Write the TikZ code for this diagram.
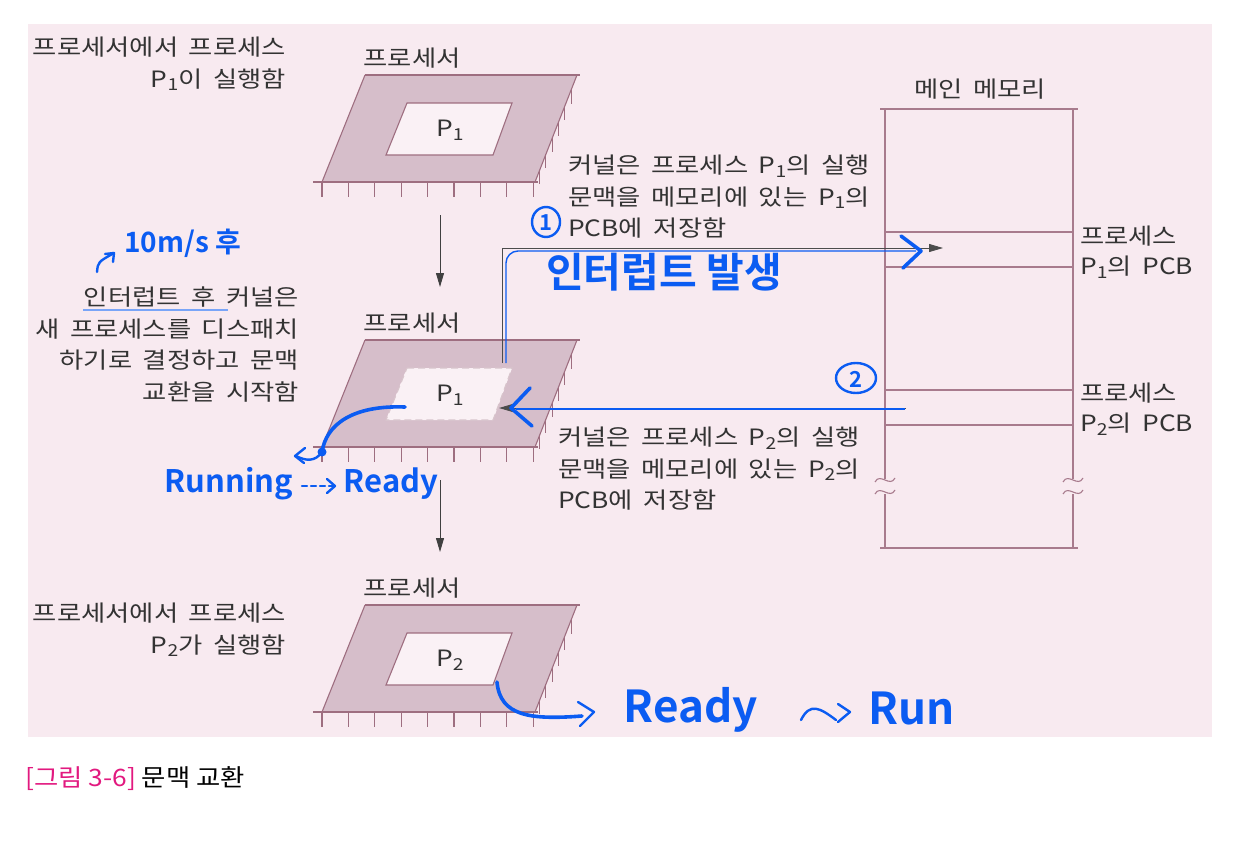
\documentclass[tikz,border=0pt]{standalone}
\usepackage{fontspec}
\newfontfamily\kr[FakeStretch=1.17,WordSpace=1.8]{Noto Sans CJK KR}
\newfontfamily\capf[FakeStretch=1.1]{Noto Sans CJK KR}
\newfontfamily\hand{Noto Sans CJK KR Bold}
\usetikzlibrary{arrows.meta}
\definecolor{bgpink}{HTML}{F8EAF0}
\definecolor{framefill}{HTML}{D6BECA}
\definecolor{frameline}{HTML}{9E6E80}
\definecolor{winfill}{HTML}{FAF1F5}
\definecolor{memline}{HTML}{A87B8D}
\definecolor{textgray}{HTML}{333333}
\definecolor{pen}{HTML}{0B5CF2}
\definecolor{capmag}{HTML}{E2197F}
\newcommand\subn[1]{\raisebox{-0.3ex}{\fontsize{16.5}{16.5}\selectfont #1}}
\tikzset{
  txt/.style={font=\kr\fontsize{22.5}{31.5}\selectfont, text=textgray, inner sep=0pt},
  procline/.style={draw=frameline, line width=1.1pt},
  memln/.style={draw=memline, line width=1.1pt},
  conn/.style={draw=black!70, line width=0.9pt, -{Triangle[length=14pt,width=8pt]}},
  darr/.style={draw=black!75, line width=0.9pt, -{Triangle[length=14pt,width=8pt]}},
  penthin/.style={draw=pen, line width=1.4pt},
  penmid/.style={draw=pen, line width=2.4pt, line cap=round, line join=round},
  penthick/.style={draw=pen, line width=3.6pt, line cap=round, line join=round},
  handtxt/.style={font=\hand, text=pen, inner sep=0pt},
}
\newcommand\drawproc[4]{%
  \fill[framefill, even odd rule] (365,75+#1) -- (577,75+#1) -- (535,182+#1) -- (322,182+#1) -- cycle
     (407,103+#1) -- (512,103+#1) -- (493,155+#1) -- (386,155+#1) -- cycle;
  \fill[winfill] (407,103+#1) -- (512,103+#1) -- (493,155+#1) -- (386,155+#1) -- cycle;
  \draw[procline] (365,75+#1) -- (580,75+#1);
  \draw[procline] (577,75+#1) -- (535,182+#1);
  \draw[procline] (365,75+#1) -- (322,182+#1);
  \draw[procline] (313,182+#1) -- (538,182+#1);
  \draw[procline, #4] (407,103+#1) -- (512,103+#1) -- (493,155+#1) -- (386,155+#1) -- cycle;
  \foreach \k in {0,...,8} \draw[procline] (322+\k*26.4,182+#1) -- ++(0,15);
  \foreach \t in {0.14,0.29,0.44,0.59,0.74,0.89} \draw[procline] (577-42*\t,75+107*\t+#1) -- ++(0,14);
  \node[txt] (#2lab) at (412,58+#1) {프로세서};
  \node[txt] (#2p) at (450,130+#1) {#3};
}
\begin{document}
\begin{tikzpicture}[x=1pt,y=-1pt]
\useasboundingbox (0,0) rectangle (1234,849);
\fill[white] (0,0) rectangle (1234,849);
\fill[bgpink] (28,24) rectangle (1212,737);

% processors
\drawproc{0}{pa}{P\subn{1}}{}
\drawproc{265}{pb}{P\subn{1}}{dashed, dash pattern=on 7pt off 4pt, draw=white!60!frameline}
\drawproc{530}{pc}{P\subn{2}}{}

% down arrows
\coordinate (d1s) at (440,215); \coordinate (d1e) at (440,287);
\coordinate (d2s) at (440,480); \coordinate (d2e) at (440,552);
\draw[darr] (d1s) -- (d1e);
\draw[darr] (d2s) -- (d2e);

% left texts
\node[txt, anchor=north east, align=right] (ta) at (286,37) {프로세서에서 프로세스\\P\subn{1}이 실행함};
\node[txt, anchor=north east, align=right] (tb) at (299,287) {인터럽트 후 커널은\\새 프로세스를 디스패치\\하기로 결정하고 문맥\\교환을 시작함};
\node[txt, anchor=north east, align=right] (tc) at (286,603) {프로세서에서 프로세스\\P\subn{2}가 실행함};

% right texts
\node[txt, anchor=north west, align=left] (td) at (568,155) {커널은 프로세스 P\subn{1}의 실행\\문맥을 메모리에 있는 P\subn{1}의\\PCB에 저장함};
\node[txt, anchor=north west, align=left] (te) at (558,427) {커널은 프로세스 P\subn{2}의 실행\\문맥을 메모리에 있는 P\subn{2}의\\PCB에 저장함};

% memory
\node[txt] (memlab) at (980,89) {메인 메모리};
\draw[memln] (880,109) -- (1078,109);
\draw[memln] (880,548) -- (1078,548);
\foreach \y in {232,267,390,425} \draw[memln] (885,\y) -- (1073,\y);
\draw[memln] (885,109) -- (885,479);
\draw[memln] (885,494) -- (885,548);
\draw[memln] (1073,109) -- (1073,479);
\draw[memln] (1073,494) -- (1073,548);
\foreach \mx in {885,1073}{
  \draw[memln] (\mx-10,482) .. controls (\mx-5,472) and (\mx+5,488) .. (\mx+10,478);
  \draw[memln] (\mx-10,494) .. controls (\mx-5,484) and (\mx+5,500) .. (\mx+10,490);
}
\node[txt, anchor=west] (pcb1a) at (1080,236) {프로세스};
\node[txt, anchor=west] (pcb1b) at (1080,267) {P\subn{1}의 PCB};
\node[txt, anchor=west] (pcb2a) at (1080,393) {프로세스};
\node[txt, anchor=west] (pcb2b) at (1080,424) {P\subn{2}의 PCB};

% connectors
\coordinate (c1s) at (502,363); \coordinate (c1e) at (943,248);
\draw[conn] (c1s) |- (c1e);
\coordinate (c2s) at (906,408); \coordinate (c2e) at (499,408);
\draw[conn] (c2s) -- (c2e);

% caption
\node[font=\capf\fontsize{24}{26}\selectfont, anchor=west, inner sep=0pt] (cap) at (25,779) {\textcolor{capmag}{[그림 3-6]} 문맥 교환};

% ===== blue handwriting =====
\coordinate (b1s) at (506,363); \coordinate (b1e) at (916,251);
\draw[penthin, rounded corners=12pt] (b1s) |- (b1e);
\draw[penthick] (901,236) -- (921,251) -- (903,268);
\coordinate (b2s) at (905,409); \coordinate (b2e) at (516,409);
\draw[penthin] (b2s) -- (b2e);
\draw[penthick] (530,388) -- (511,408) -- (532,426);

\node[handtxt, font=\hand\fontsize{41}{41}\selectfont] (intr) at (664,272) {인터럽트 발생};
\draw[penmid] (546,222) ellipse (14pt and 15pt);
\node[handtxt, font=\hand\fontsize{22}{22}\selectfont] (one) at (546,223) {1};
\draw[penmid] (856,378) ellipse (20pt and 15pt);
\node[handtxt, font=\hand\fontsize{22}{22}\selectfont] (two) at (856,379) {2};

\node[handtxt, font=\hand\fontsize{28}{28}\selectfont, anchor=west] (tenms) at (124,243) {10m/s 후};
\coordinate (a10s) at (97,272); \coordinate (a10e) at (114,253);
\draw[penmid] (a10s) .. controls (98,262) .. (a10e);
\draw[penmid] (105,254) -- (114,253) -- (113,262);
\draw[draw=pen!55, line width=1.5pt] (83,310) -- (228,310);

% running -> ready
\coordinate (rc1) at (405,407); \coordinate (rc2) at (322,452);
\draw[penthick] (rc1) .. controls (352,405) and (326,425) .. (rc2);
\fill[pen] (rc2) circle (4.5pt);
\draw[penmid] (rc2) .. controls (315,462) and (306,461) .. (296,456);
\draw[penmid] (305,448) -- (295,456) -- (304,463);
\node[handtxt, font=\hand\fontsize{31}{31}\selectfont] (running) at (229,484) {Running};
\draw[penmid, dash pattern=on 5pt off 4pt] (302,486) -- (333,486);
\draw[penmid] (327,479) -- (335,486) -- (327,493);
\node[handtxt, font=\hand\fontsize{31}{31}\selectfont] (ready1) at (391,484) {Ready};

% bottom: ready -> run
\coordinate (bc1) at (497,682); \coordinate (bc2) at (582,716);
\draw[penthick] (bc1) .. controls (500,716) and (530,720) .. (bc2);
\draw[penmid] (578,702) -- (594,712) -- (580,726);
\node[handtxt, font=\hand\fontsize{44}{44}\selectfont] (ready2) at (691,710) {Ready};
\draw[penmid] (801,720) .. controls (810,702) and (820,708) .. (836,720);
\draw[penmid] (838,704) -- (850,712) -- (838,722);
\node[handtxt, font=\hand\fontsize{44}{44}\selectfont] (run) at (912,708) {Run};
\end{tikzpicture}
\end{document}
